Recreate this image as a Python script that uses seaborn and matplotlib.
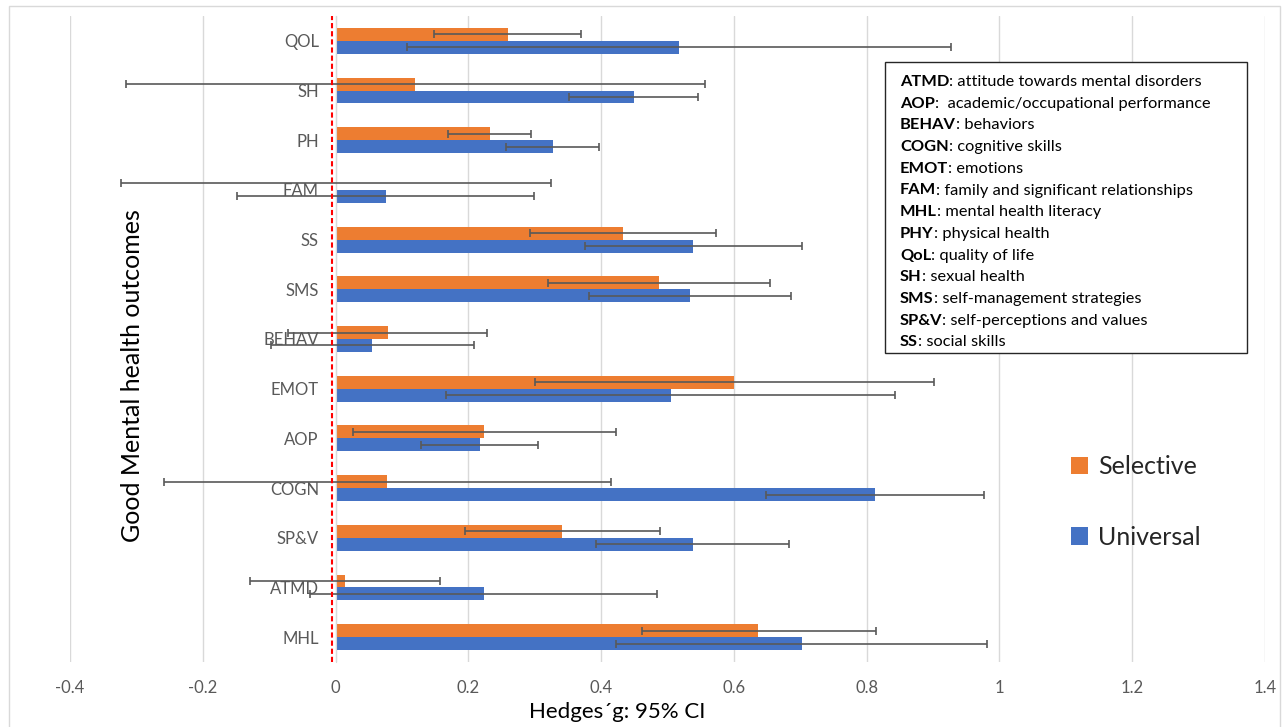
import numpy as np
import pandas as pd
import matplotlib
matplotlib.use("Agg")
import matplotlib.pyplot as plt
import seaborn as sns
from matplotlib.patches import Rectangle

# outcome categories, top to bottom
categories = ["QOL", "SH", "PH", "FAM", "SS", "SMS", "BEHAV", "EMOT",
              "AOP", "COGN", "SP&V", "ATMD", "MHL"]

# Hedges' g and 95% CI
selective = [0.259, 0.120, 0.232, 0.002, 0.433, 0.487, 0.079, 0.600,
             0.224, 0.078, 0.341, 0.014, 0.636]
sel_low = [0.149, -0.315, 0.169, -0.323, 0.293, 0.320, -0.071, 0.300,
           0.026, -0.258, 0.195, -0.129, 0.461]
sel_high = [0.369, 0.557, 0.295, 0.325, 0.573, 0.655, 0.228, 0.901,
            0.423, 0.415, 0.489, 0.157, 0.814]

universal = [0.517, 0.449, 0.327, 0.076, 0.538, 0.534, 0.055, 0.505,
             0.217, 0.812, 0.538, 0.223, 0.702]
uni_low = [0.107, 0.351, 0.257, -0.148, 0.375, 0.382, -0.097, 0.166,
           0.129, 0.648, 0.393, -0.038, 0.423]
uni_high = [0.927, 0.546, 0.397, 0.299, 0.702, 0.686, 0.209, 0.842,
            0.305, 0.976, 0.683, 0.484, 0.981]

groups = ["Selective", "Universal"]
xticks = [-0.4, -0.2, 0, 0.2, 0.4, 0.6, 0.8, 1, 1.2, 1.4]

abbreviations = [
    ("ATMD", ": attitude towards mental disorders"),
    ("AOP", ":  academic/occupational performance"),
    ("BEHAV", ": behaviors"),
    ("COGN", ": cognitive skills"),
    ("EMOT", ": emotions"),
    ("FAM", ": family and significant relationships"),
    ("MHL", ": mental health literacy"),
    ("PHY", ": physical health"),
    ("QoL", ": quality of life"),
    ("SH", ": sexual health"),
    ("SMS", ": self-management strategies"),
    ("SP&V", ": self-perceptions and values"),
    ("SS", ": social skills"),
]

sns.set_style("white")
plt.rcParams["font.family"] = ["Lato", "DejaVu Sans"]

df = pd.DataFrame({
    "outcome": categories * 2,
    "group": ["Selective"] * len(categories) + ["Universal"] * len(categories),
    "g": selective + universal,
})

fig = plt.figure(figsize=(12.85, 7.27), dpi=100)
ax = fig.add_axes([70 / 1285, 1 - 662 / 727, 1195 / 1285, 646 / 727])

sns.barplot(data=df, x="g", y="outcome", hue="group", hue_order=groups,
            order=categories, palette=["#ED7D31", "#4472C4"], saturation=1,
            width=0.52, orient="h", linewidth=0, errorbar=None, ax=ax,
            zorder=2)

# error bars on each bar
bar_conts = list(ax.containers)
lows = [sel_low, uni_low]
highs = [sel_high, uni_high]
vals = [selective, universal]
for k, cont in enumerate(bar_conts):
    yc = [b.get_y() + b.get_height() / 2 for b in cont]
    v = np.array(vals[k])
    err = [v - np.array(lows[k]), np.array(highs[k]) - v]
    ax.errorbar(v, yc, xerr=err, fmt="none", ecolor="#595959",
                elinewidth=1.2, capsize=3, capthick=1.2, zorder=3)

ax.axvline(-0.005, color="#ff0000", ls=(0, (2.5, 1.4)), lw=1.5, zorder=4)

ax.set_xlim(-0.4, 1.4)
ax.set_ylim(12.5, -0.5)
ax.set_xticks(xticks)
ax.set_xticklabels([f"{t:g}" for t in xticks])
ax.xaxis.grid(True, color="#d9d9d9", lw=1)
ax.set_axisbelow(True)
for s in ["top", "right", "bottom"]:
    ax.spines[s].set_visible(False)
ax.spines["left"].set_position(("data", 0))
ax.spines["left"].set_color("#d9d9d9")
ax.tick_params(axis="both", length=0, labelsize=12, colors="#595959")
ax.tick_params(axis="x", pad=13)
ax.tick_params(axis="y", pad=12)
ax.set_xlabel("")
ax.set_ylabel("")

# legend
handles, labels = ax.get_legend_handles_labels()
ax.legend(handles, labels, loc="center left",
          bbox_to_anchor=(1071 / 1285, 1 - 502 / 727),
          bbox_transform=fig.transFigure, frameon=False, fontsize=18,
          handlelength=0.68, handleheight=0.68, handletextpad=0.4,
          labelspacing=1.9, borderpad=0, borderaxespad=0)

# axis titles
fig.text(133 / 1285, 1 - 376 / 727, "Good Mental health outcomes",
         rotation=90, ha="center", va="center", fontsize=18, color="black")
fig.text(617 / 1285, 1 - 712 / 727, "Hedges´g: 95% CI",
         ha="center", va="center", fontsize=16, color="black")

# abbreviation box
ax.add_patch(Rectangle((885 / 1285, 1 - 353 / 727), 362 / 1285, 291 / 727,
                       transform=fig.transFigure, facecolor="white",
                       edgecolor="#262626", lw=1, zorder=5, clip_on=False))
for i, (ab, desc) in enumerate(abbreviations):
    yy = 1 - (82 + i * 21.7) / 727
    t = ax.text(900 / 1285, yy, ab, transform=fig.transFigure, fontsize=11.8,
                fontweight="bold", ha="left", va="center", color="black",
                zorder=6)
    ax.annotate(desc, xy=(1, 0), xycoords=t, ha="left", va="bottom",
                fontsize=11.8, color="black", zorder=6)

# outer chart border
fig.patches.append(Rectangle((9 / 1285, -0.01), 1271 / 1285, 1 - 6 / 727 + 0.01,
                             transform=fig.transFigure, fill=False,
                             edgecolor="#d9d9d9", lw=1))

fig.savefig("out.png", dpi=100)
